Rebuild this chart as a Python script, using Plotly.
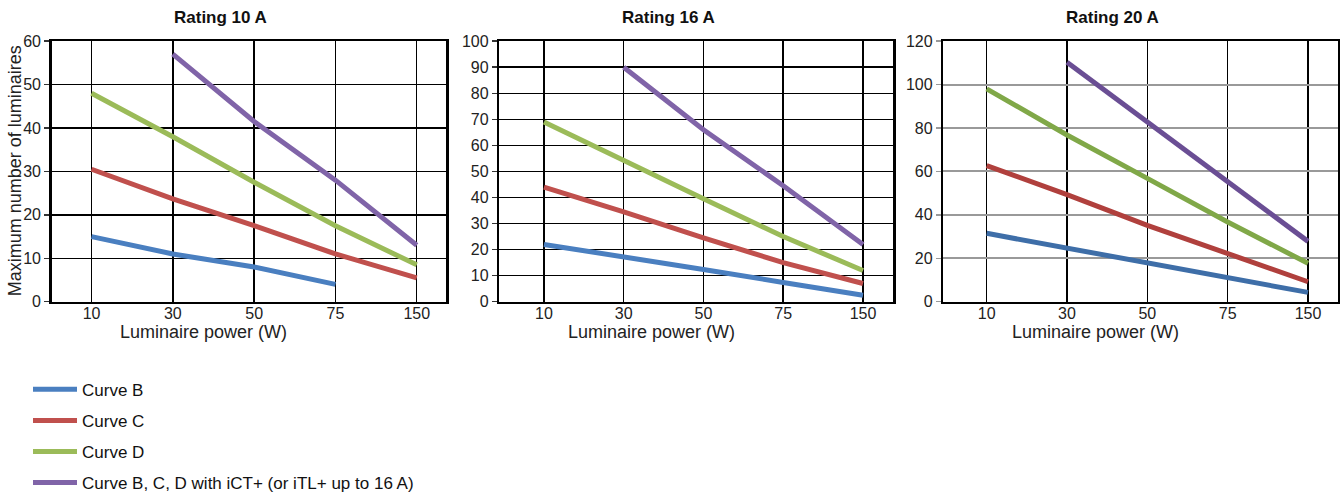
import plotly.graph_objects as go

# ---------------- data ----------------
powers = ["10", "30", "50", "75", "150"]
ratings = ["Rating 10 A", "Rating 16 A", "Rating 20 A"]
series_names = ["Curve B", "Curve C", "Curve D",
                "Curve B, C, D with iCT+ (or iTL+ up to 16 A)"]

# Rating 10 A
r10_b = [15, 11, 8, 4, None]
r10_c = [30.5, 23.7, 17.5, 11, 5.5]
r10_d = [48, 38, 27.5, 17.5, 8.5]
r10_ict = [None, 57, 41.5, 28, 13]

# Rating 16 A
r16_b = [22, 17.3, 12.4, 7.4, 2.5]
r16_c = [44, 34.5, 24.5, 15, 7]
r16_d = [69, 54, 39.5, 25, 12]
r16_ict = [None, 90, 66, 44.5, 22]

# Rating 20 A
r20_b = [31.5, 24.8, 17.7, 11.2, 4.3]
r20_c = [62.7, 49.3, 35.2, 21.9, 9.2]
r20_d = [98, 76.8, 56.8, 36.7, 17.7]
r20_ict = [None, 110.3, 82.8, 55.3, 27.8]

y_max = [60, 100, 120]
y_dtick = [10, 10, 20]

colors_light = ["#4a7fc0", "#c0504d", "#9bbb59", "#8064a8"]
colors_dark = ["#3e6ea8", "#b0403d", "#80a848", "#6a4e94"]

panels = [
    [r10_b, r10_c, r10_d, r10_ict],
    [r16_b, r16_c, r16_d, r16_ict],
    [r20_b, r20_c, r20_d, r20_ict],
]

W, H = 1344, 501
# plot area pixel boxes (left, right)
boxes = [(51.7, 446.0), (499.3, 893.3), (943.3, 1337.7)]
top_px, bot_px = 42.5, 311.7
x_ranges = [(-0.49, 4.36), (-0.56, 4.38), (-0.54, 4.37)]
gridcolors_y = ["#000000", "#000000", "#999999"]
tickcolors_y = ["#333333", "#333333", "#999999"]

fig = go.Figure()

for p, series in enumerate(panels):
    xa = "x" if p == 0 else f"x{p+1}"
    ya = "y" if p == 0 else f"y{p+1}"
    cols = colors_dark if p == 2 else colors_light
    for s, vals in enumerate(series):
        fig.add_trace(go.Scatter(
            x=powers, y=vals, mode="lines", name=series_names[s],
            line=dict(color=cols[s], width=5),
            connectgaps=False,
            showlegend=(p == 0), legendgroup=f"g{s}",
            xaxis=xa, yaxis=ya,
        ))

layout = dict(
    width=W, height=H, autosize=False,
    margin=dict(l=0, r=0, t=0, b=0),
    paper_bgcolor="white", plot_bgcolor="white",
    font=dict(family="Arial, Liberation Sans, sans-serif", size=16, color="#222222"),
    showlegend=True,
    legend=dict(
        x=28 / W, y=1 - 384 / H, xanchor="left", yanchor="top",
        orientation="v", font=dict(size=17, color="#111111"),
        tracegroupgap=6, itemwidth=44, bgcolor="rgba(0,0,0,0)",
    ),
)

annotations = []
for p in range(3):
    l, r = boxes[p]
    suffix = "" if p == 0 else str(p + 1)
    layout["xaxis" + suffix] = dict(
        domain=[l / W, r / W], anchor="y" + suffix,
        type="category", categoryorder="array", categoryarray=powers,
        range=list(x_ranges[p]), automargin=False,
        showgrid=True, gridcolor="#000000", gridwidth=1.5,
        showline=True, mirror=True, linecolor="#000000", linewidth=2.5,
        ticks="", tickfont=dict(size=16, color="#222222"),
        ticklabelstandoff=-4,
        zeroline=False, fixedrange=True,
    )
    layout["yaxis" + suffix] = dict(
        domain=[1 - bot_px / H, 1 - top_px / H], anchor="x" + suffix,
        range=[0, y_max[p]], dtick=y_dtick[p], tick0=0, automargin=False,
        showgrid=True, gridcolor=gridcolors_y[p], gridwidth=1.5 if p < 2 else 2,
        showline=True, mirror=True, linecolor="#000000", linewidth=2.5,
        ticks="outside", ticklen=5, tickcolor=tickcolors_y[p], tickwidth=1.5,
        tickfont=dict(size=16, color="#222222"),
        zeroline=False, fixedrange=True,
    )
    cx = (l + r) / 2
    annotations.append(dict(
        text=f"<b>{ratings[p]}</b>", x=(cx - 28) / W, y=1 - 18 / H,
        xref="paper", yref="paper", showarrow=False,
        font=dict(size=17, color="#111111"),
        xanchor="center", yanchor="middle",
    ))
    annotations.append(dict(
        text="Luminaire power (W)", x=(cx - 45) / W, y=1 - 343 / H,
        xref="paper", yref="paper", showarrow=False,
        font=dict(size=18, color="#222222"),
        xanchor="center", yanchor="middle",
    ))

annotations.append(dict(
    text="Maximum number of luminaires", x=15 / W, y=1 - 177 / H,
    xref="paper", yref="paper", showarrow=False, textangle=-90,
    font=dict(size=18, color="#222222"),
    xanchor="center", yanchor="middle",
))
layout["annotations"] = annotations

fig.update_layout(**layout)
fig.write_html(
    "out.html",
    config={"displayModeBar": False, "staticPlot": True},
    post_script=(
        "document.documentElement.style.margin='0px';"
        "document.body.style.margin='0px';"
        "document.body.style.overflow='hidden';"
        "var d=document.getElementById('{plot_id}');"
        "d.style.position='fixed';d.style.left='0px';d.style.top='0px';"
    ),
)
